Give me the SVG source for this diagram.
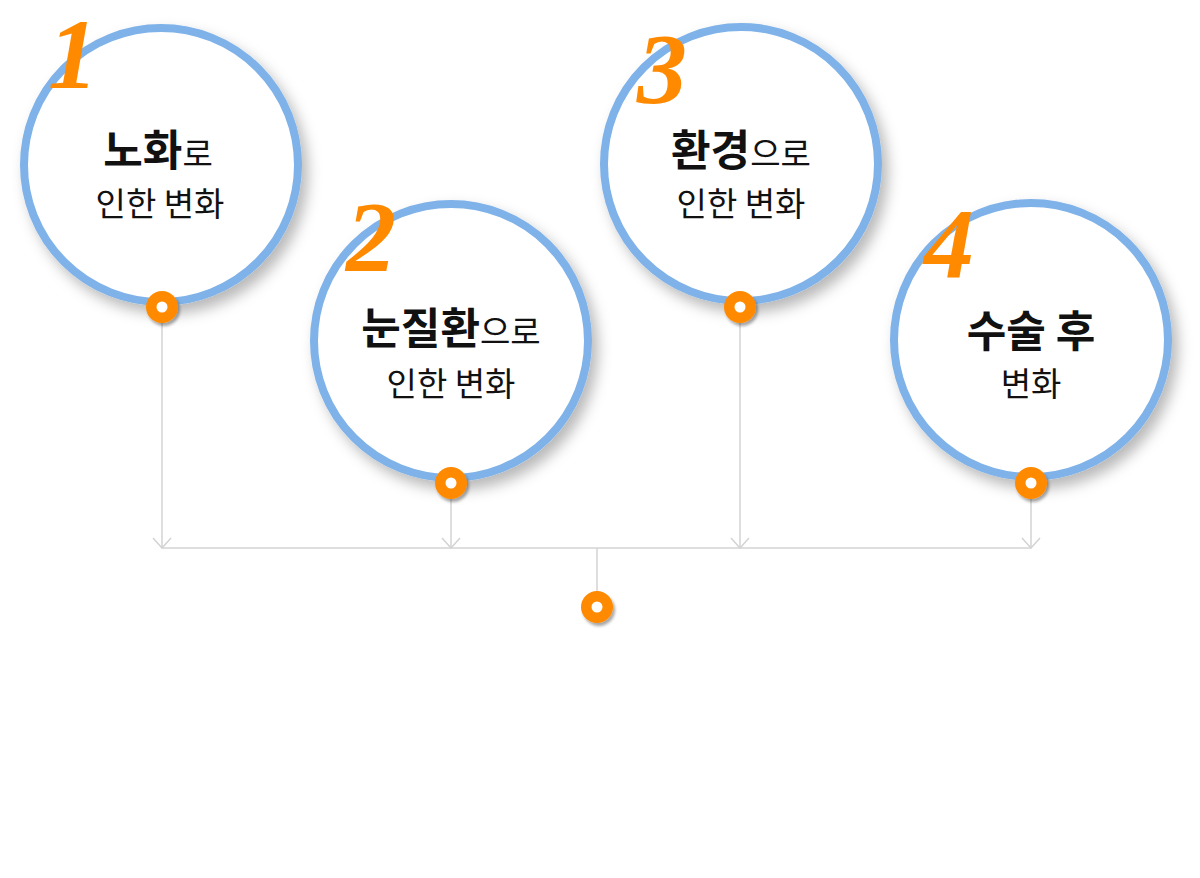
<svg xmlns="http://www.w3.org/2000/svg" width="1200" height="878" viewBox="0 0 1200 878">
<defs>
<filter id="sh" x="-20%" y="-20%" width="150%" height="150%">
<feDropShadow dx="6" dy="8" stdDeviation="7" flood-color="#000" flood-opacity="0.28"/>
</filter>
<filter id="dsh" x="-50%" y="-50%" width="200%" height="200%">
<feDropShadow dx="2" dy="3" stdDeviation="1.5" flood-color="#000" flood-opacity="0.35"/>
</filter>
<marker id="arr" viewBox="0 0 20 12" refX="10" refY="11" markerWidth="20" markerHeight="12" markerUnits="userSpaceOnUse" orient="0">
<path d="M1 1 L10 11 L19 1" fill="none" stroke="#d3d3d3" stroke-width="1.5"/>
</marker>
</defs>
<style>
.ring{fill:#fff;stroke:#7fb2e8;stroke-width:8}
.dot{fill:#ff8a00}
.hole{fill:#fff}
.ln{stroke:#d3d3d3;stroke-width:1.5;fill:none}
.num{font-family:"Liberation Serif","DejaVu Serif",serif;font-style:italic;font-weight:bold;font-size:100px;fill:#ff8a00}
.t{font-family:"Noto Sans CJK KR","Noto Sans",sans-serif;fill:#111;text-anchor:middle}
.b{font-weight:bold;font-size:43px}
.r{font-weight:normal;font-size:33px}
</style>
<rect width="1200" height="878" fill="#fff"/>
<g id="connectors">
<line class="ln" x1="162" y1="310" x2="162" y2="548" marker-end="url(#arr)"/>
<line class="ln" x1="451" y1="486" x2="451" y2="548" marker-end="url(#arr)"/>
<line class="ln" x1="740" y1="310" x2="740" y2="548" marker-end="url(#arr)"/>
<line class="ln" x1="1031" y1="486" x2="1031" y2="548" marker-end="url(#arr)"/>
<line class="ln" x1="162" y1="548" x2="1031" y2="548"/>
<line class="ln" x1="597" y1="548" x2="597" y2="600"/>
</g>
<g id="node1">
<circle class="ring" cx="161" cy="165" r="137" filter="url(#sh)"/>
<text class="num" x="48" y="88">1</text>
<text class="t" x="158" y="166"><tspan class="b">노화</tspan><tspan class="r">로</tspan></text>
<text class="t r" x="160" y="216">인한 변화</text>
<circle class="dot" cx="162" cy="307" r="16" filter="url(#dsh)"/>
<circle class="hole" cx="162" cy="307" r="5.5"/>
</g>
<g id="node2">
<circle class="ring" cx="451" cy="341" r="137" filter="url(#sh)"/>
<text class="num" x="346" y="270">2</text>
<text class="t" x="451" y="344"><tspan class="b">눈질환</tspan><tspan class="r">으로</tspan></text>
<text class="t r" x="451" y="396">인한 변화</text>
<circle class="dot" cx="451" cy="483" r="16" filter="url(#dsh)"/>
<circle class="hole" cx="451" cy="483" r="5.5"/>
</g>
<g id="node3">
<circle class="ring" cx="741" cy="164" r="137" filter="url(#sh)"/>
<text class="num" x="637" y="102">3</text>
<text class="t" x="741" y="166"><tspan class="b">환경</tspan><tspan class="r">으로</tspan></text>
<text class="t r" x="741" y="216">인한 변화</text>
<circle class="dot" cx="740" cy="307" r="16" filter="url(#dsh)"/>
<circle class="hole" cx="740" cy="307" r="5.5"/>
</g>
<g id="node4">
<circle class="ring" cx="1031" cy="340" r="137" filter="url(#sh)"/>
<text class="num" x="924" y="277">4</text>
<text class="t b" x="1031" y="347">수술 후</text>
<text class="t r" x="1031" y="396">변화</text>
<circle class="dot" cx="1031" cy="483" r="16" filter="url(#dsh)"/>
<circle class="hole" cx="1031" cy="483" r="5.5"/>
</g>
<g id="node5">
<circle class="dot" cx="597" cy="607" r="16" filter="url(#dsh)"/>
<circle class="hole" cx="597" cy="607" r="5.5"/>
</g>
</svg>
